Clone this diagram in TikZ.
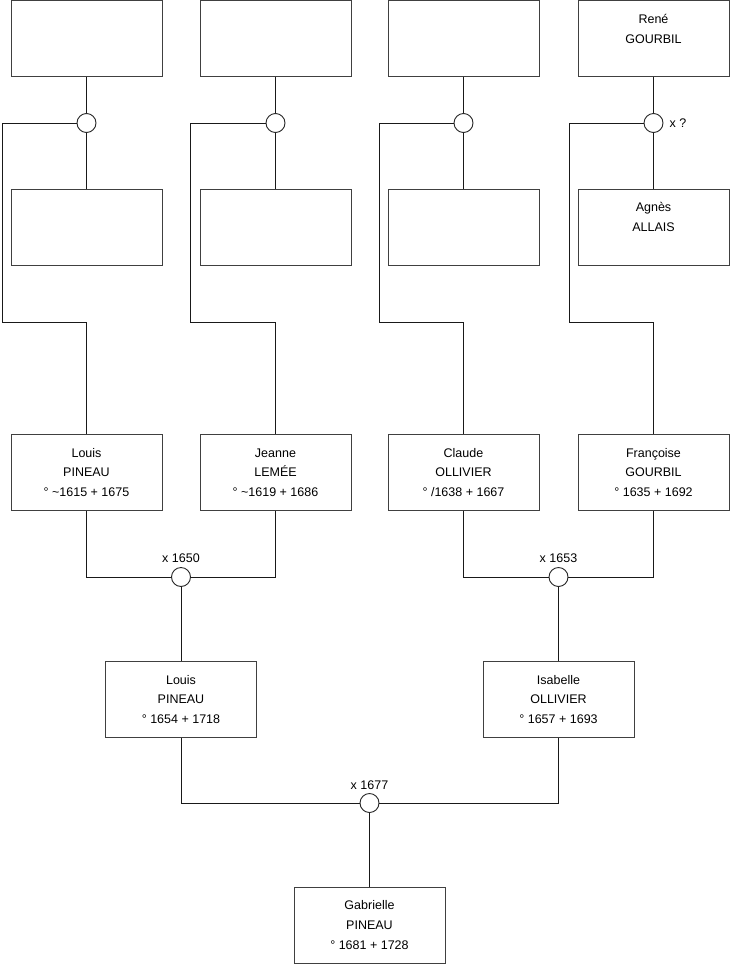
\documentclass[tikz,border=0pt]{standalone}
\usepackage{fontspec}
\setmainfont{Liberation Sans}
\usetikzlibrary{positioning}
\begin{document}
\begin{tikzpicture}[x=1pt,y=-1pt,
  person/.style={draw=black!75, line width=1pt, fill=white, minimum width=151pt, minimum height=76pt, inner sep=0pt, align=center, font=\fontsize{12.5}{19.7}\selectfont},
  union/.style={circle, draw=black!85, line width=0.9pt, fill=white, minimum size=19pt, inner sep=0pt},
  link/.style={draw=black!90, line width=1pt},
  lbl/.style={font=\fontsize{12.5}{15}\selectfont, inner sep=0pt}]
\useasboundingbox (0,0) rectangle (740,975);

% row 1 (fathers of row 3)
\node[person] (f1) at (86.5,38.5) {};
\node[person] (f2) at (275.5,38.5) {};
\node[person] (f3) at (463.5,38.5) {};
\node[person] (f4) at (653.5,38.5) {René\\GOURBIL\\\mbox{}};

% row 2 (mothers)
\node[person] (m1) at (86.5,227) {};
\node[person] (m2) at (275.5,227) {};
\node[person] (m3) at (463.5,227) {};
\node[person] (m4) at (653.5,227) {Agnès\\ALLAIS\\\mbox{}};

% row 3
\node[person] (p1) at (86.5,472.5) {Louis\\PINEAU\\° \textasciitilde1615 + 1675};
\node[person] (p2) at (275.5,472.5) {Jeanne\\LEMÉE\\° \textasciitilde1619 + 1686};
\node[person] (p3) at (463.5,472.5) {Claude\\OLLIVIER\\° /1638 + 1667};
\node[person] (p4) at (653.5,472.5) {Françoise\\GOURBIL\\° 1635 + 1692};

% row 4
\node[person] (g1) at (181,699.5) {Louis\\PINEAU\\° 1654 + 1718};
\node[person] (g2) at (558.5,699.5) {Isabelle\\OLLIVIER\\° 1657 + 1693};

% row 5
\node[person] (c) at (369.5,925) {Gabrielle\\PINEAU\\° 1681 + 1728};

% unions
\node[union] (u1) at (86.5,123) {};
\node[union] (u2) at (275.5,123) {};
\node[union] (u3) at (463.5,123) {};
\node[union] (u4) at (653.5,123) {};
\node[union] (v1) at (181,577) {};
\node[union] (v2) at (558.5,577) {};
\node[union] (w) at (369.5,803) {};

% labels
\node[lbl] (lu4) at (678,123) {x ?};
\node[lbl] (lv1) at (181,558.5) {x 1650};
\node[lbl] (lv2) at (558.5,558.5) {x 1653};
\node[lbl] (lw) at (369.5,785) {x 1677};

% corner coordinates
\coordinate (k1) at (2,322);
\coordinate (k2) at (190,322);
\coordinate (k3) at (379,322);
\coordinate (k4) at (569,322);

% connectors rows 1-3
\foreach \i in {1,2,3,4}{
  \draw[link] (f\i.south) -- (u\i.north);
  \draw[link] (u\i.south) -- (m\i.north);
  \draw[link] (u\i.west) -| (k\i) -| (p\i.north);
}

% connectors row 3 to row 4
\draw[link] (p1.south) |- (v1.west);
\draw[link] (p2.south) |- (v1.east);
\draw[link] (v1.south) -- (g1.north);
\draw[link] (p3.south) |- (v2.west);
\draw[link] (p4.south) |- (v2.east);
\draw[link] (v2.south) -- (g2.north);

% row 4 to row 5
\draw[link] (g1.south) |- (w.west);
\draw[link] (g2.south) |- (w.east);
\draw[link] (w.south) -- (c.north);
\end{tikzpicture}
\end{document}
